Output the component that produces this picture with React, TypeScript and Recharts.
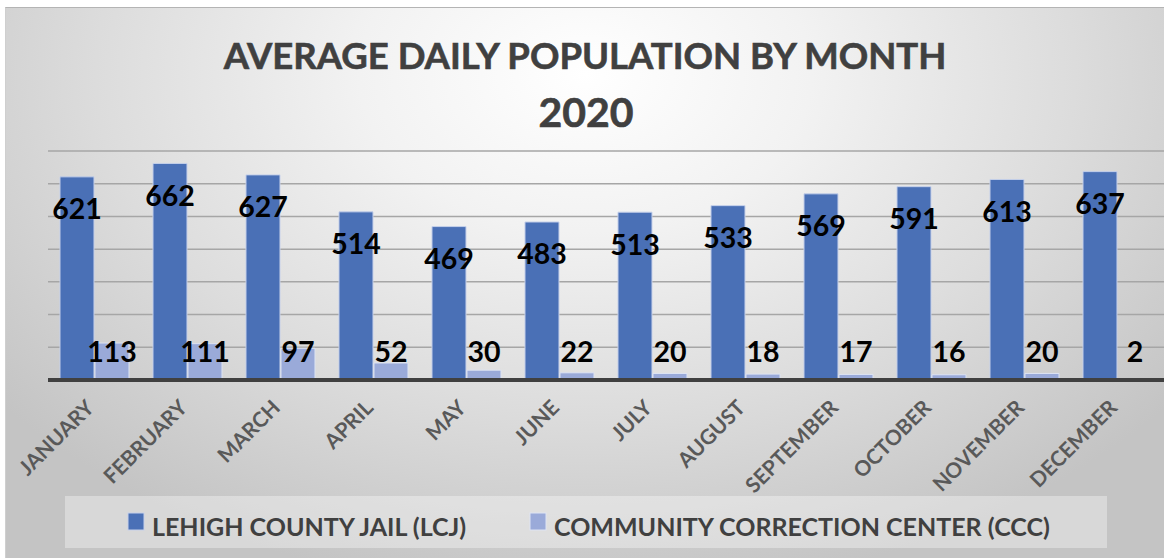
import React from "react";
import { BarChart, Bar, XAxis, YAxis, CartesianGrid, LabelList } from "recharts";

const months = ["JANUARY", "FEBRUARY", "MARCH", "APRIL", "MAY", "JUNE", "JULY", "AUGUST", "SEPTEMBER", "OCTOBER", "NOVEMBER", "DECEMBER"];
const lcj = [621, 662, 627, 514, 469, 483, 513, 533, 569, 591, 613, 637];
const ccc = [113, 111, 97, 52, 30, 22, 20, 18, 17, 16, 20, 2];
const yTicks = [0, 100, 200, 300, 400, 500, 600, 700];
const seriesNames = ["LEHIGH COUNTY JAIL (LCJ)", "COMMUNITY CORRECTION CENTER (CCC)"];
const titleLines = ["AVERAGE DAILY POPULATION BY MONTH", "2020"];

const data = months.map((m, i) => ({ month: m, lcj: lcj[i], ccc: ccc[i] }));

const LCJ_COLOR = "#4a70b6";
const CCC_COLOR = "#9aaad9";
const FONT = "Lato, 'Open Sans', sans-serif";

function MonthTick(props: any) {
  const { x, y, payload } = props;
  const ax = x + 1;
  const ay = y + 29;
  return (
    <text
      x={ax}
      y={ay}
      transform={`rotate(-45 ${ax} ${ay})`}
      textAnchor="end"
      fontFamily={FONT}
      fontWeight={700}
      fontSize={21}
      fill="#595959"
    >
      {payload.value}
    </text>
  );
}

function TopLabel(props: any) {
  const { x, y, width, value } = props;
  return (
    <text x={x + width / 2} y={y + 42.5} textAnchor="middle" fontFamily={FONT} fontWeight={700} fontSize={28.5} fill="#000">
      {value}
    </text>
  );
}

function BaseLabel(props: any) {
  const { x, y, width, height, value } = props;
  return (
    <text x={x + width / 2} y={y + height - 18} textAnchor="middle" fontFamily={FONT} fontWeight={700} fontSize={28.5} fill="#000">
      {value}
    </text>
  );
}

export default function App() {
  return (
    <div style={{ position: "absolute", left: 0, top: 0, width: 1164, height: 558, background: "#fff", overflow: "hidden" }}>
      <div
        style={{
          position: "absolute",
          left: 5,
          top: 7,
          width: 1159,
          height: 551,
          borderTop: "1px solid #b4b4b4",
          borderLeft: "1px solid #cfcfcf",
          background: "radial-gradient(ellipse 65% 95% at 50% 12%, #ffffff 0%, #f2f2f2 30%, #dcdcdc 65%, #c4c4c4 100%)",
        }}
      />
      <svg width={1164} height={558} style={{ position: "absolute", left: 0, top: 0 }}>
        <text x={585} y={69} textAnchor="middle" fontFamily={FONT} fontWeight={700} fontSize={36.5} fill="#404040" stroke="#404040" strokeWidth={0.6}>
          {titleLines[0]}
        </text>
        <text x={586} y={127} textAnchor="middle" fontFamily={FONT} fontWeight={700} fontSize={41} fill="#404040" stroke="#404040" strokeWidth={0.6}>
          {titleLines[1]}
        </text>
        <rect x={65} y={496} width={1042} height={52} fill="#ffffff" fillOpacity={0.35} />
        <rect x={128} y={513} width={16} height={17} fill={LCJ_COLOR} stroke="#c5d0ea" strokeWidth={1} />
        <text x={152} y={536} fontFamily={FONT} fontWeight={700} fontSize={25} fill="#404040">
          {seriesNames[0]}
        </text>
        <rect x={530} y={513} width={16} height={17} fill={CCC_COLOR} stroke="#dde3f3" strokeWidth={1} />
        <text x={554} y={536} fontFamily={FONT} fontWeight={700} fontSize={25} fill="#404040">
          {seriesNames[1]}
        </text>
      </svg>
      <div style={{ position: "absolute", left: 0, top: 0 }}>
        <BarChart
          width={1164}
          height={558}
          data={data}
          margin={{ top: 151, right: 0, left: 48, bottom: 148 }}
          barCategoryGap="12.9%"
          barGap={1}
        >
          <CartesianGrid horizontal vertical={false} stroke="#a6a6a6" strokeWidth={1.5} />
          <YAxis hide domain={[0, 700]} ticks={yTicks} />
          <XAxis
            dataKey="month"
            height={30}
            interval={0}
            tickLine={false}
            tickSize={0}
            tickMargin={0}
            axisLine={{ stroke: "#404040", strokeWidth: 4 }}
            tick={<MonthTick />}
          />
          <Bar dataKey="lcj" name={seriesNames[0]} fill={LCJ_COLOR} stroke="#c5d0ea" strokeWidth={1} isAnimationActive={false}>
            <LabelList dataKey="lcj" content={<TopLabel />} />
          </Bar>
          <Bar dataKey="ccc" name={seriesNames[1]} fill={CCC_COLOR} stroke="#dde3f3" strokeWidth={1} isAnimationActive={false}>
            <LabelList dataKey="ccc" content={<BaseLabel />} />
          </Bar>
        </BarChart>
      </div>
    </div>
  );
}
